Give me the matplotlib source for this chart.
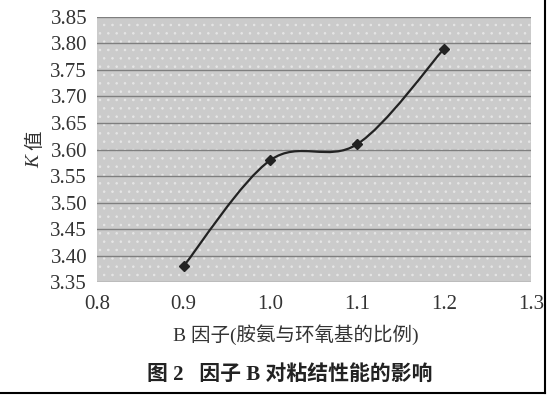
import matplotlib
matplotlib.use('Agg')
from matplotlib import pyplot as plt
from matplotlib.path import Path
from matplotlib.patches import PathPatch, Rectangle
from matplotlib.lines import Line2D

plt.rcParams['font.family'] = ['Liberation Serif', 'Noto Sans CJK SC']
plt.rcParams['hatch.linewidth'] = 0.6

# data
b_factor = [0.9, 1.0, 1.1, 1.2]
k_value = [3.38, 3.58, 3.61, 3.79]
x_ticks = [0.8, 0.9, 1.0, 1.1, 1.2, 1.3]
y_ticks = [3.35, 3.40, 3.45, 3.50, 3.55, 3.60, 3.65, 3.70, 3.75, 3.80, 3.85]


def smooth_path(xs, ys, t=1 / 6):
    # excel-like smoothed line: bezier segments through the data points
    verts = [(xs[0], ys[0])]
    codes = [Path.MOVETO]
    n = len(xs)
    for i in range(n - 1):
        x0, y0 = (xs[i - 1], ys[i - 1]) if i > 0 else (xs[i], ys[i])
        x3, y3 = (xs[i + 2], ys[i + 2]) if i + 2 < n else (xs[i + 1], ys[i + 1])
        c1 = (xs[i] + (xs[i + 1] - x0) * t, ys[i] + (ys[i + 1] - y0) * t)
        c2 = (xs[i + 1] - (x3 - xs[i]) * t, ys[i + 1] - (y3 - ys[i]) * t)
        verts += [c1, c2, (xs[i + 1], ys[i + 1])]
        codes += [Path.CURVE4] * 3
    return Path(verts, codes)


fig = plt.figure(figsize=(5.5, 3.95), dpi=100)
ax = fig.add_axes([0.176, 0.286, 0.789, 0.671])
ax.set_facecolor('#cbcbcb')
# speckled look of the printed background
ax.add_patch(Rectangle((0, 0), 1, 1, transform=ax.transAxes, facecolor='none',
                       edgecolor='#e6e6e6', hatch='..', linewidth=0, zorder=0))
ax.set_xlim(0.8, 1.3)
ax.set_ylim(3.35, 3.85)
ax.set_xticks(x_ticks)
ax.set_yticks(y_ticks)
ax.set_xticklabels(['%.1f' % v for v in x_ticks])
ax.set_yticklabels(['%.2f' % v for v in y_ticks])
ax.tick_params(length=0, labelsize=15, colors='#333333')
ax.tick_params(axis='y', pad=7)
ax.tick_params(axis='x', pad=9)
ax.grid(axis='y', color='#7f7f7f', linewidth=1.0)
ax.set_axisbelow(True)
for s in ax.spines.values():
    s.set_visible(False)

ax.add_patch(PathPatch(smooth_path(b_factor, k_value), facecolor='none',
                       edgecolor='#222222', linewidth=1.6, zorder=3))
ax.plot(b_factor, k_value, linestyle='none', marker='D', markersize=5, color='#222222', zorder=4)

fig.text(0.537, 0.152, 'B 因子(胺氨与环氧基的比例)', fontsize=14, color='#333333',
         ha='center', va='center')
fig.text(0.064, 0.59, 'K', rotation=90, fontsize=14, style='italic', color='#333333',
         ha='center', va='center')
fig.text(0.064, 0.645, '值', rotation=90, fontsize=14, color='#333333',
         ha='center', va='center')
fig.text(0.527, 0.051, '图 2   因子 B 对粘结性能的影响', fontsize=15, fontweight='bold',
         ha='center', va='center', color='#222222')

# frame lines on right and bottom of the scan
fig.add_artist(Line2D([0.991, 0.991], [0.005, 1.0], transform=fig.transFigure, color='black', lw=1.5))
fig.add_artist(Line2D([0.0, 0.991], [0.006, 0.006], transform=fig.transFigure, color='black', lw=1.5))

fig.savefig('out.png', dpi=100)
